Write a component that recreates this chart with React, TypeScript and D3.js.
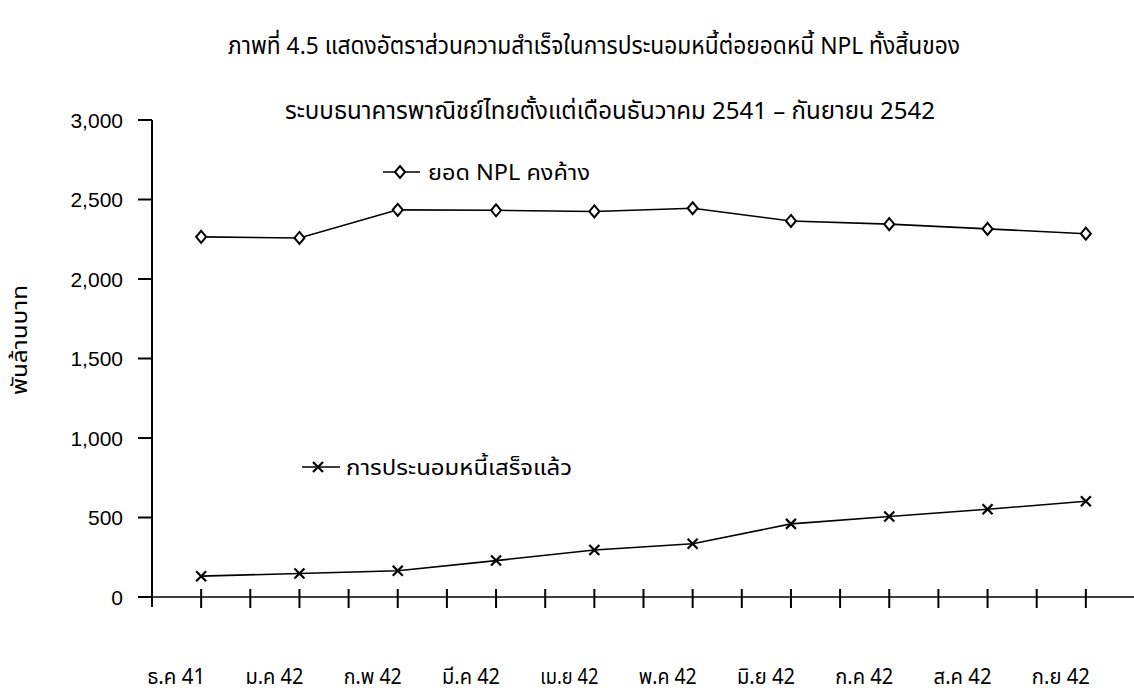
import React from "react";
import * as d3 from "d3";

const categories = ["ธ.ค 41", "ม.ค 42", "ก.พ 42", "มี.ค 42", "เม.ย 42", "พ.ค 42", "มิ.ย 42", "ก.ค 42", "ส.ค 42", "ก.ย 42"];
const nplOutstanding = [2265, 2258, 2435, 2432, 2425, 2445, 2365, 2345, 2315, 2285];
const restructured = [131, 148, 165, 229, 296, 335, 460, 506, 552, 602];
const yTicks = [0, 500, 1000, 1500, 2000, 2500, 3000];
const titleLines = [
  "ภาพที่ 4.5 แสดงอัตราส่วนความสำเร็จในการประนอมหนี้ต่อยอดหนี้ NPL ทั้งสิ้นของ",
  "ระบบธนาคารพาณิชย์ไทยตั้งแต่เดือนธันวาคม 2541 – กันยายน 2542",
];
const legendNpl = "ยอด NPL คงค้าง";
const legendRestr = "การประนอมหนี้เสร็จแล้ว";
const yTitle = "พันล้านบาท";

const FONT = "'Noto Sans Thai', 'Noto Sans Thai UI', 'Loma', 'Garuda', 'Liberation Sans', 'Noto Sans', sans-serif";

export default function App() {
  const W = 1134, H = 695;
  const x = d3.scaleBand<string>().domain(categories).range([152, 1135]);
  const y = d3.scaleLinear().domain([0, 3000]).range([597, 120]);
  const cx = (c: string) => (x(c) as number) + x.bandwidth() / 2;
  const y0 = y(0);
  const line = d3.line<number>().x((_, i) => cx(categories[i])).y((v) => y(v));

  const xTicks: number[] = [];
  categories.forEach((c, i) => {
    xTicks.push(cx(c));
    if (i < categories.length - 1) xTicks.push((x(c) as number) + x.bandwidth());
  });

  const diamond = (px: number, py: number, k: string) => (
    <path key={k} d={`M${px},${py - 6}L${px + 5},${py}L${px},${py + 6}L${px - 5},${py}Z`} fill="#fff" stroke="#000" strokeWidth={2} />
  );
  const cross = (px: number, py: number, k: string) => (
    <path key={k} d={`M${px - 5},${py - 5}L${px + 5},${py + 5}M${px + 5},${py - 5}L${px - 5},${py + 5}`} stroke="#000" strokeWidth={2.2} fill="none" />
  );

  return (
    <svg width={W} height={H} style={{ position: "absolute", left: 0, top: 0, background: "#fff" }} fontFamily={FONT}>
      <rect width={W} height={H} fill="#fff" />
      {/* title */}
      <text x={228} y={54} fontSize={24} textLength={732} lengthAdjust="spacingAndGlyphs">{titleLines[0]}</text>
      <text x={285} y={119} fontSize={24} textLength={650} lengthAdjust="spacingAndGlyphs">{titleLines[1]}</text>

      {/* y axis */}
      <line x1={152} x2={152} y1={y(3000)} y2={y0 + 10} stroke="#000" strokeWidth={2} />
      {yTicks.map((t) => (
        <g key={t}>
          <line x1={138} x2={152} y1={y(t)} y2={y(t)} stroke="#000" strokeWidth={2} />
          <text x={123} y={y(t)} dy="0.36em" textAnchor="end" fontSize={21} fontFamily="'Liberation Sans', Arial, sans-serif">
            {d3.format(",")(t)}
          </text>
        </g>
      ))}
      <text transform={`translate(27,340) rotate(-90)`} textAnchor="middle" fontSize={22} textLength={110} lengthAdjust="spacingAndGlyphs">{yTitle}</text>

      {/* x axis */}
      <line x1={138} x2={1134} y1={y0} y2={y0} stroke="#000" strokeWidth={1.6} />
      {xTicks.map((t, i) => (
        <line key={i} x1={t} x2={t} y1={y0 - 8} y2={y0 + 11} stroke="#000" strokeWidth={2} />
      ))}
      {categories.map((c) => (
        <text key={c} x={cx(c) + 4} y={684} textAnchor="end" fontSize={21} textLength={58} lengthAdjust="spacingAndGlyphs">{c}</text>
      ))}

      {/* series */}
      <path d={line(nplOutstanding) || ""} fill="none" stroke="#000" strokeWidth={1.6} />
      <path d={line(restructured) || ""} fill="none" stroke="#000" strokeWidth={1.6} />
      {nplOutstanding.map((v, i) => diamond(cx(categories[i]), y(v), "d" + i))}
      {restructured.map((v, i) => cross(cx(categories[i]), y(v), "c" + i))}

      {/* legends */}
      <line x1={383} x2={420} y1={172} y2={172} stroke="#000" strokeWidth={1.6} />
      {diamond(400, 172, "ld")}
      <text x={428} y={180} fontSize={22} textLength={162} lengthAdjust="spacingAndGlyphs">{legendNpl}</text>
      <line x1={302} x2={340} y1={467} y2={467} stroke="#000" strokeWidth={1.6} />
      {cross(318, 467, "lc")}
      <text x={346} y={475} fontSize={22} textLength={226} lengthAdjust="spacingAndGlyphs">{legendRestr}</text>
    </svg>
  );
}
